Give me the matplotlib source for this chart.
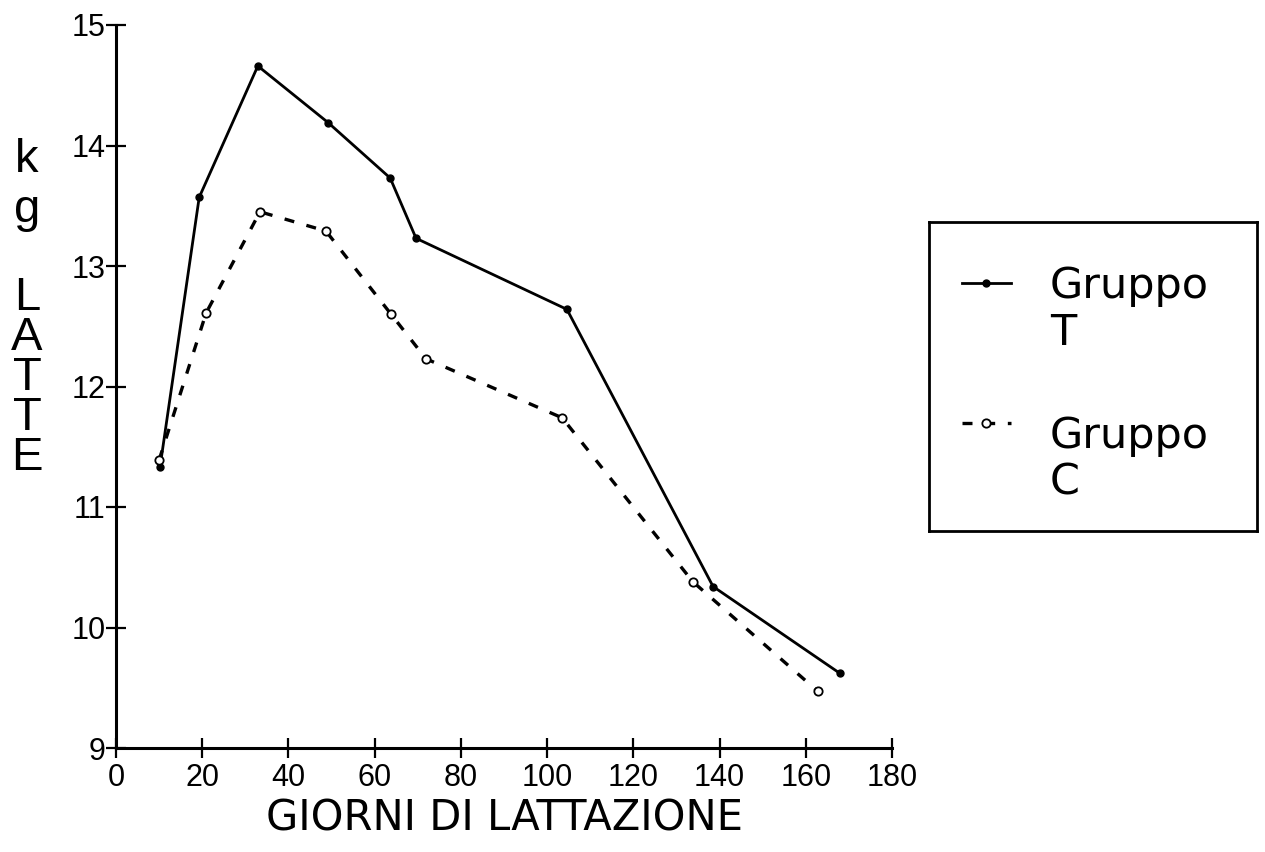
import matplotlib
matplotlib.use('Agg')
import matplotlib.pyplot as plt

# giorni di lattazione / kg latte
giorni_t = [10.2, 19.3, 32.9, 49.2, 63.6, 69.6, 104.6, 138.5, 167.9]
latte_t = [11.33, 13.57, 14.66, 14.19, 13.73, 13.23, 12.64, 10.34, 9.62]
giorni_c = [10.0, 20.9, 33.4, 48.7, 63.8, 71.9, 103.5, 133.8, 162.8]
latte_c = [11.39, 12.61, 13.45, 13.29, 12.60, 12.23, 11.74, 10.38, 9.47]

xticks = list(range(0, 181, 20))
yticks = list(range(9, 16))

fig = plt.figure(figsize=(12.65, 8.52), dpi=100)
ax = fig.add_axes([116 / 1265, 1 - 748 / 852, 776 / 1265, 723 / 852])

ax.plot(giorni_t, latte_t, color='black', lw=2.0, marker='o', ms=5,
        mfc='black', mec='black')
ax.plot(giorni_c, latte_c, color='black', lw=2.4, dashes=(3, 3.8),
        marker='o', ms=6, mfc='white', mec='black', mew=1.3)

ax.set_xlim(0, 180)
ax.set_ylim(9, 15)
ax.set_xticks(xticks)
ax.set_yticks(yticks)
ax.spines[['top', 'right']].set_visible(False)
for s in ('left', 'bottom'):
    ax.spines[s].set_linewidth(2.2)
ax.tick_params(direction='inout', length=14, width=1.6, labelsize=22)
ax.tick_params(axis='y', pad=0.5)
ax.tick_params(axis='x', pad=4)
for lab in ax.get_xticklabels() + ax.get_yticklabels():
    lab.set_fontfamily('Liberation Sans')

ax.set_xlabel('GIORNI DI LATTAZIONE', fontsize=30, family='DejaVu Sans',
              labelpad=3)

# etichetta verticale "kg LATTE"
fig.text(27 / 1265, 1 - 138 / 852, 'k\ng', fontsize=34, family='Liberation Sans',
         ha='center', va='top', linespacing=1.17)
fig.text(27 / 1265, 1 - 276 / 852, 'L\nA\nT\nT\nE', fontsize=34,
         family='Liberation Sans', ha='center', va='top', linespacing=0.88)

# legenda
lg = fig.add_axes([929 / 1265, 1 - 531 / 852, 328 / 1265, 309 / 852])
lg.set_xlim(0, 1)
lg.set_ylim(0, 1)
lg.set_xticks([])
lg.set_yticks([])
for s in lg.spines.values():
    s.set_linewidth(2.0)
hx = [0.10, 0.175, 0.25]
lg.plot(hx, [0.803] * 3, color='black', lw=2.0, marker='o', ms=5,
        markevery=[1])
lg.plot(hx, [0.35] * 3, color='black', lw=2.4, dashes=(3, 3.8), marker='o',
        ms=6, mfc='white', mec='black', mew=1.3, markevery=[1])
tx = 121 / 328
for y, s in [(298, 'Gruppo'), (345, 'T'), (448, 'Gruppo'), (495, 'C')]:
    lg.text(tx, (531 - y) / 309, s, fontsize=31, family='DejaVu Sans',
            ha='left', va='baseline')

fig.savefig('out.png', dpi=100)
